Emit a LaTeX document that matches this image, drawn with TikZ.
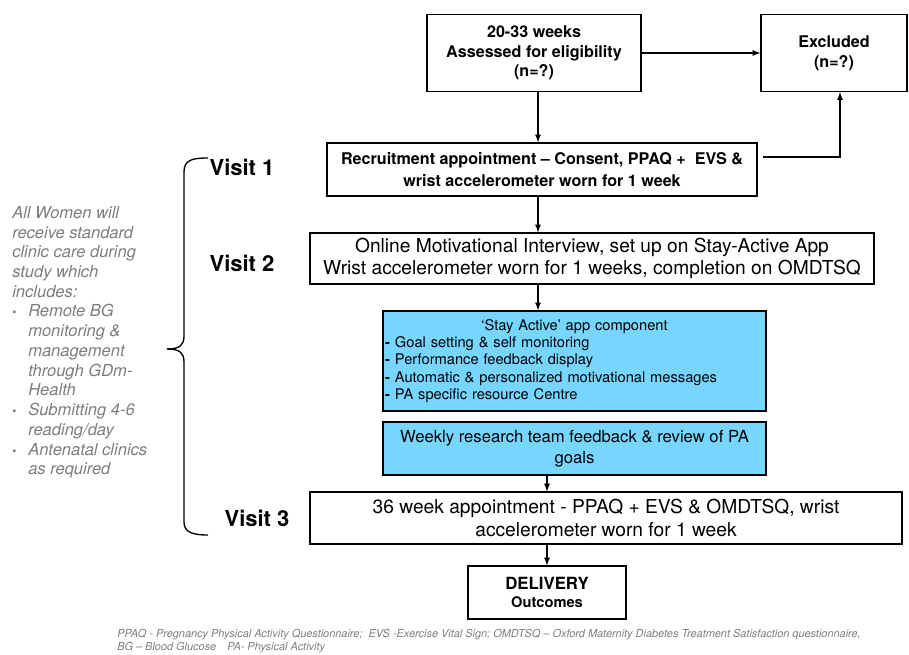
\documentclass[tikz,border=0pt]{standalone}
\usepackage{fontspec}
\setmainfont{TeX Gyre Heros}
\usepackage{tikz}
\usetikzlibrary{shapes}
\tikzset{>=latex}
\definecolor{appblue}{RGB}{118,214,255}
\definecolor{notegrey}{RGB}{125,125,125}
\tikzset{stagebox/.style={draw, line width=0.9pt, inner sep=1pt, align=center}}
\tikzset{flow/.style={->, line width=1pt}}
\tikzset{visitlabel/.style={font=\bfseries\fontsize{16.5}{19}\selectfont}}
\tikzset{notetext/.style={text=notegrey, align=left, inner sep=0pt, font=\itshape\fontsize{12.4}{14.8}\selectfont}}

\begin{document}
\begin{tikzpicture}[x=0.75pt, y=-0.75pt]
      \useasboundingbox (0,0) rectangle (909,655);
      % flow boxes
      \node[stagebox, minimum width=160.5pt, minimum height=57.75pt,
        font=\bfseries\fontsize{12.1}{14.8}\selectfont] (assess) at (534,53)
        {20-33 weeks\\ Assessed for eligibility\\ (n=?)};
      \node[stagebox, minimum width=109.5pt, minimum height=57.75pt,
        font=\bfseries\fontsize{12.1}{14.8}\selectfont] (excluded) at (834,53)
        {Excluded\\ (n=?)};
      \node[stagebox, minimum width=322.5pt, minimum height=39.75pt,
        font=\bfseries\fontsize{12.1}{16}\selectfont] (recruit) at (542,169.5)
        {Recruitment appointment -- Consent, PPAQ +\ \ EVS \&\\ wrist accelerometer worn for 1 week};
      \node[stagebox, minimum width=423pt, minimum height=38.25pt,
        font=\fontsize{14.4}{16.5}\selectfont] (online) at (592,258.5)
        {Online Motivational Interview, set up on Stay-Active App\\
         Wrist accelerometer worn for 1 weeks, completion on OMDTSQ};
      \node[stagebox, fill=appblue, minimum width=287.25pt, minimum height=75pt,
        text width=284pt, font=\fontsize{11}{13}\selectfont] (stayactive) at (574.5,361)
        {\centering `Stay Active' app component\par
         \raggedright\textbf{-} Goal setting \& self monitoring\\
         \textbf{-} Performance feedback display\\
         \textbf{-} Automatic \& personalized motivational messages\\
         \textbf{-} PA specific resource Centre\par};
      \node[stagebox, fill=appblue, minimum width=287.25pt, minimum height=39.75pt,
        font=\fontsize{12.5}{15.5}\selectfont] (weekly) at (574.5,448.5)
        {Weekly research team feedback \& review of PA\\ goals};
      \node[stagebox, minimum width=444pt, minimum height=39pt,
        font=\fontsize{14.4}{17}\selectfont] (final) at (606,518)
        {36 week appointment - PPAQ + EVS \& OMDTSQ, wrist\\ accelerometer worn for 1 week};
      \node[stagebox, minimum width=118.5pt, minimum height=39.75pt] (delivery) at (547,592.5)
        {\bfseries\fontsize{12.6}{14}\selectfont DELIVERY\\[1.5pt] \bfseries\fontsize{11}{13}\selectfont Outcomes};

      % connectors
      \coordinate (colA) at (538,0);
      \coordinate (colB) at (547,0);
      \coordinate (back) at (840,157);
      \draw[flow] (colA |- assess.south) -- (colA |- recruit.north);
      \draw[flow] (assess.east) -- (excluded.west);
      \draw[flow, shorten <=4pt] (back -| recruit.east) -- (back) -- (back |- excluded.south);
      \draw[flow] (colA |- recruit.south) -- (colA |- online.north);
      \draw[flow] (colA |- online.south) -- (colA |- stayactive.north);
      \draw[flow] (colB |- weekly.south) -- (colB |- final.north);
      \draw[flow] (colB |- final.south) -- (colB |- delivery.north);

      % visits and brace
      \node[visitlabel] (visit1) at (242,167) {Visit 1};
      \node[visitlabel] (visit2) at (242,263) {Visit 2};
      \node[visitlabel] (visit3) at (257,518) {Visit 3};
      \draw[line width=1pt] (208,158) .. controls (192,158) and (184,160) .. (184,172) -- (184,336)
        .. controls (184,345) and (180,349) .. (167,349);
      \draw[line width=1pt] (167,349) .. controls (180,349) and (184,353) .. (184,362) -- (184,522)
        .. controls (184,532) and (192,535) .. (208,535);

      % standard care note
      \node[notetext, anchor=north west] (care) at (12,206)
        {All Women will\\ receive standard\\ clinic care during\\ study which\\ includes:\\
         \makebox[12pt][l]{\upshape\small\textbullet}Remote BG\\
         \hspace*{12pt}monitoring \&\\ \hspace*{12pt}management\\ \hspace*{12pt}through GDm-\\ \hspace*{12pt}Health\\
         \makebox[12pt][l]{\upshape\small\textbullet}Submitting 4-6\\ \hspace*{12pt}reading/day\\
         \makebox[12pt][l]{\upshape\small\textbullet}Antenatal clinics\\ \hspace*{12pt}as required};

      % abbreviations
      \node[notetext, anchor=north west, font=\itshape\fontsize{8.2}{9.8}\selectfont] (abbrev) at (117,629)
        {PPAQ - Pregnancy Physical Activity Questionnaire;\ \ EVS -Exercise Vital Sign; OMDTSQ -- Oxford Maternity Diabetes Treatment Satisfaction questionnaire,\\
         BG -- Blood Glucose\quad PA- Physical Activity};
    \end{tikzpicture}
\end{document}
